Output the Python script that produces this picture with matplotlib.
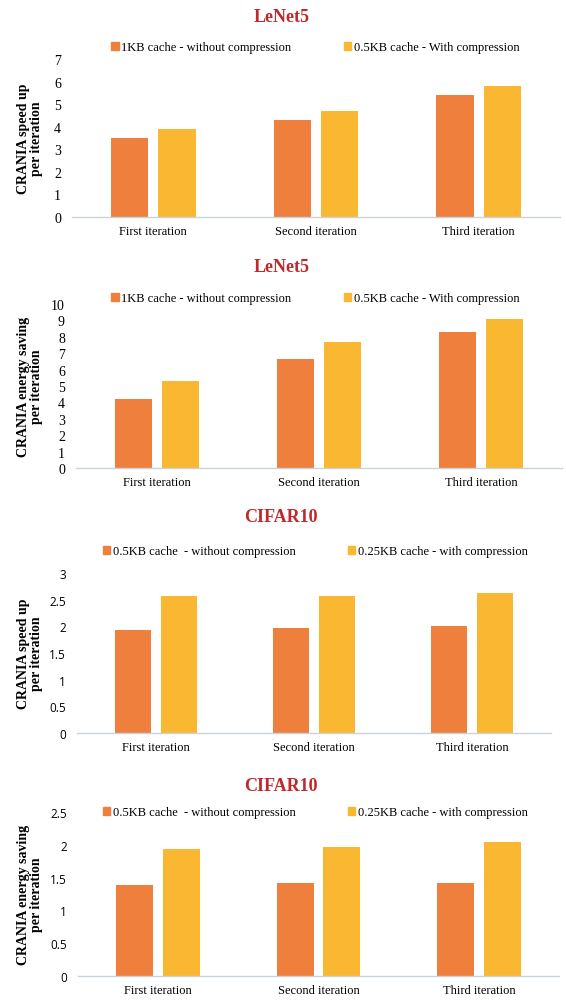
import numpy as np
import matplotlib
matplotlib.use('Agg')
import matplotlib.pyplot as plt
from matplotlib.patches import Patch

plt.rcParams['font.family'] = ['Liberation Serif', 'DejaVu Serif']

iterations = ['First iteration', 'Second iteration', 'Third iteration']

# LeNet5 speed up
lenet_speed_nocomp = [3.5, 4.3, 5.4]
lenet_speed_comp = [3.9, 4.7, 5.8]
# LeNet5 energy saving
lenet_energy_nocomp = [4.2, 6.63, 8.3]
lenet_energy_comp = [5.3, 7.66, 9.08]
# CIFAR10 speed up
cifar_speed_nocomp = [1.93, 1.97, 2.01]
cifar_speed_comp = [2.56, 2.56, 2.63]
# CIFAR10 energy saving
cifar_energy_nocomp = [1.39, 1.42, 1.42]
cifar_energy_comp = [1.94, 1.97, 2.05]

lenet_labels = ['1KB cache - without compression', '0.5KB cache - With compression']
cifar_labels = ['0.5KB cache  - without compression', '0.25KB cache - with compression']

ORANGE = '#EE7F3D'
YELLOW = '#FAB731'
TITLE_RED = '#C0282B'

W, H = 566, 1004
fig = plt.figure(figsize=(W / 100, H / 100), dpi=100)

# (title, ylabel, values, labels, ymax, yticks, tick font, px box, title y, legend y)
panels = [
    ('LeNet5', 'CRANIA speed up\nper iteration', lenet_speed_nocomp, lenet_speed_comp,
     lenet_labels, 7, list(range(0, 8)), 'serif', (72, 560, 60, 218), 18, 48),
    ('LeNet5', 'CRANIA energy saving\nper iteration', lenet_energy_nocomp, lenet_energy_comp,
     lenet_labels, 10, list(range(0, 11)), 'serif', (76, 562, 305, 469), 268, 299),
    ('CIFAR10', 'CRANIA speed up\nper iteration', cifar_speed_nocomp, cifar_speed_comp,
     cifar_labels, 3, [0, 0.5, 1, 1.5, 2, 2.5, 3], 'sans', (77, 551, 574, 734), 518, 552),
    ('CIFAR10', 'CRANIA energy saving\nper iteration', cifar_energy_nocomp, cifar_energy_comp,
     cifar_labels, 2.5, [0, 0.5, 1, 1.5, 2, 2.5], 'sans', (78, 559, 813, 977), 787, 813),
]

x = np.arange(len(iterations))
bw = 0.23
off = 0.145

for title, ylab, v1, v2, labels, ymax, yticks, tfont, box, ty, ly in panels:
    x0, x1, ytop, ybot = box
    ax = fig.add_axes([x0 / W, 1 - ybot / H, (x1 - x0) / W, (ybot - ytop) / H])
    ax.bar(x - off, v1, bw, color=ORANGE, zorder=2)
    ax.bar(x + off, v2, bw, color=YELLOW, zorder=2)
    ax.set_xlim(-0.5, 2.5)
    ax.set_ylim(0, ymax)
    ax.set_yticks(yticks)
    ax.set_yticklabels([('%g' % t) for t in yticks])
    ax.set_xticks(x)
    ax.set_xticklabels(iterations, fontsize=9)
    for s in ['top', 'right', 'left']:
        ax.spines[s].set_visible(False)
    ax.spines['bottom'].set_color('#C9D3DC')
    ax.spines['bottom'].set_linewidth(1.0)
    ax.tick_params(axis='both', length=0)
    ax.tick_params(axis='x', pad=6)
    ax.tick_params(axis='y', pad=8)
    for lab in ax.get_yticklabels():
        if tfont == 'sans':
            lab.set_family(['Open Sans', 'DejaVu Sans'])
            lab.set_fontsize(8.5)
        else:
            lab.set_fontsize(10)
    ax.set_facecolor('none')

    fig.text(0.497, 1 - ty / H, title, ha='center', va='center', fontsize=13,
             fontweight='bold', color=TITLE_RED)
    handles = [Patch(color=ORANGE), Patch(color=YELLOW)]
    fig.legend(handles, labels, loc='center', bbox_to_anchor=(0.557, 1 - ly / H),
               ncol=2, frameon=False, fontsize=9, handlelength=0.6, handleheight=0.6,
               handletextpad=0.2, columnspacing=4.2)
    fig.text(30 / W, 1 - (ytop + ybot) / 2 / H, ylab, rotation=90, ha='center',
             va='center', fontsize=10, fontweight='bold', linespacing=1.0)

fig.savefig('out.png', dpi=100, facecolor='white')
